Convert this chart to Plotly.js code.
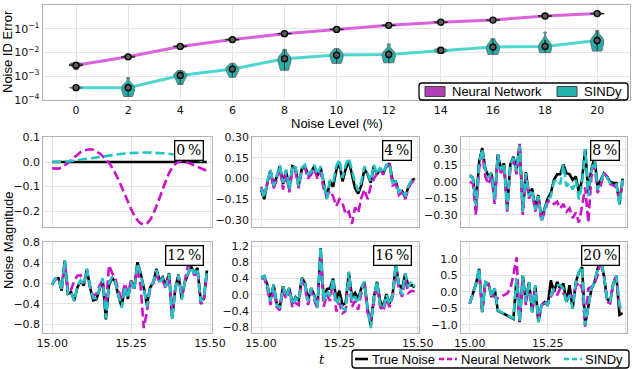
<!DOCTYPE html>
<html>
<head>
<meta charset="utf-8">
<script src="https://cdn.plot.ly/plotly-3.0.1.min.js"></script>
<style>
  html, body { margin: 0; padding: 0; background: #fff; }
  #chart { width: 640px; height: 369px; }
</style>
</head>
<body>
<div id="chart"></div>
<script>
// ---- top panel: noise identification error vs noise level ----
const noiseLevels = [0, 2, 4, 6, 8, 10, 12, 14, 16, 18, 20];
const nnMedian = [2.9e-3, 6.6e-3, 1.8e-2, 3.5e-2, 6.2e-2, 9.4e-2, 0.139, 0.19, 0.233, 0.345, 0.435];
const sindyMedian = [3.3e-4, 3.3e-4, 1.08e-3, 2.0e-3, 5.5e-3, 7.8e-3, 8.3e-3, 1.23e-2, 1.7e-2, 1.8e-2, 3.2e-2];

// samples (min ... max)
const nnSamples = [
    [1.9e-3, 2.7e-3, 2.9e-3, 3.2e-3, 3.4e-3, 3.6e-3],
    [6.0e-3, 6.4e-3, 6.6e-3, 6.8e-3, 7.1e-3],
    [1.65e-2, 1.75e-2, 1.8e-2, 1.85e-2, 1.95e-2],
    [3.25e-2, 3.4e-2, 3.5e-2, 3.6e-2, 3.75e-2],
    [5.8e-2, 6.1e-2, 6.2e-2, 6.3e-2, 6.6e-2],
    [8.8e-2, 9.2e-2, 9.4e-2, 9.6e-2, 1.0e-1],
    [0.130, 0.136, 0.139, 0.142, 0.148],
    [0.178, 0.186, 0.19, 0.194, 0.202],
    [0.218, 0.228, 0.233, 0.238, 0.248],
    [0.322, 0.338, 0.345, 0.352, 0.368],
    [0.41, 0.427, 0.435, 0.443, 0.46]
];
const sindySamples = [
    [3.1e-4, 3.2e-4, 3.3e-4, 3.4e-4, 3.5e-4],
    [1.4e-4, 2.2e-4, 2.8e-4, 3.3e-4, 3.9e-4, 5.0e-4, 8.7e-4],
    [4.5e-4, 8.0e-4, 1.0e-3, 1.08e-3, 1.2e-3, 1.4e-3, 1.74e-3],
    [9.1e-4, 1.5e-3, 1.8e-3, 2.0e-3, 2.3e-3, 2.7e-3, 3.5e-3],
    [1.8e-3, 3.5e-3, 4.5e-3, 5.5e-3, 6.5e-3, 8.5e-3, 1.35e-2],
    [3.5e-3, 4.5e-3, 6.5e-3, 7.8e-3, 9.0e-3, 1.1e-2, 1.45e-2],
    [3.7e-3, 5.0e-3, 7.0e-3, 8.3e-3, 1.0e-2, 1.3e-2, 2.3e-2],
    [9.1e-3, 1.1e-2, 1.2e-2, 1.23e-2, 1.3e-2, 1.45e-2, 1.7e-2],
    [8.3e-3, 1.1e-2, 1.4e-2, 1.7e-2, 2.0e-2, 2.6e-2, 3.8e-2],
    [9.8e-3, 1.3e-2, 1.6e-2, 1.8e-2, 2.3e-2, 3.5e-2, 7.2e-2],
    [1.15e-2, 1.8e-2, 2.6e-2, 3.2e-2, 3.8e-2, 5.0e-2, 8.5e-2]
];
const logTickVals = [1e-4, 1e-3, 1e-2, 1e-1, 1];
const logTickText = ['10<sup>\u22124</sup>', '10<sup>\u22123</sup>', '10<sup>\u22122</sup>', '10<sup>\u22121</sup>', '10<sup>0</sup>'];

// ---- small panels: noise time series ----
const tGrid = [15.00, 15.01, 15.02, 15.03, 15.04, 15.05, 15.06, 15.07, 15.08, 15.09,
    15.10, 15.11, 15.12, 15.13, 15.14, 15.15, 15.16, 15.17, 15.18, 15.19,
    15.20, 15.21, 15.22, 15.23, 15.24, 15.25, 15.26, 15.27, 15.28, 15.29,
    15.30, 15.31, 15.32, 15.33, 15.34, 15.35, 15.36, 15.37, 15.38, 15.39,
    15.40, 15.41, 15.42, 15.43, 15.44, 15.45, 15.46, 15.47, 15.48, 15.49];
const panelLabels = ['0\u2009%', '4\u2009%', '8\u2009%', '12\u2009%', '16\u2009%', '20\u2009%'];

const true0 = [0,0,0,0,0,0,0,0,0,0, 0,0,0,0,0,0,0,0,0,0, 0,0,0,0,0,0,0,0,0,0, 0,0,0,0,0,0,0,0,0,0, 0,0,0,0,0,0,0,0,0,0];
const nn0 = [-0.026,-0.028,-0.027,-0.022,-0.014,-0.004,0.008,0.02,0.031,0.040,
    0.047,0.051,0.052,0.050,0.044,0.035,0.024,0.011,-0.004,-0.022,
    -0.045,-0.072,-0.102,-0.133,-0.163,-0.192,-0.217,-0.237,-0.25,-0.255,
    -0.25,-0.236,-0.213,-0.182,-0.147,-0.11,-0.075,-0.045,-0.022,-0.008,
    0.0,0.003,0.002,-0.002,-0.008,-0.014,-0.02,-0.026,-0.031,-0.036];
const sindy0 = [0.0,0.0,0.001,0.001,0.002,0.003,0.004,0.006,0.008,0.01,
    0.012,0.014,0.016,0.018,0.02,0.022,0.024,0.026,0.028,0.03,
    0.032,0.033,0.034,0.035,0.036,0.037,0.038,0.038,0.039,0.039,
    0.039,0.039,0.038,0.038,0.037,0.036,0.035,0.034,0.032,0.03,
    0.027,0.024,0.021,0.017,0.013,0.009,0.006,0.003,0.001,0.0];

const true4 = [-0.08,-0.15,-0.03,0.06,-0.06,0.01,0.09,-0.04,0.06,-0.08,
    0.09,0.08,-0.05,0.07,0.09,0.03,0.05,0.09,0.02,0.08,
    -0.03,-0.14,-0.02,-0.06,0.06,0.12,-0.02,0.07,0.13,0.02,
    -0.07,-0.11,-0.05,0.07,0.03,-0.03,0.09,0.03,0.07,0.04,
    0.09,0.11,-0.02,-0.02,-0.10,-0.09,-0.14,-0.06,-0.02,0.0];
const nn4 = [-0.06,-0.12,-0.04,0.06,-0.07,-0.01,0.08,-0.08,0.04,-0.10,
    0.06,0.05,-0.07,0.06,0.08,0.0,0.03,0.07,0.0,0.05,
    -0.08,-0.13,-0.09,-0.13,-0.20,-0.15,-0.18,-0.26,-0.24,-0.33,
    -0.21,-0.25,-0.14,-0.08,-0.15,-0.055,0.0,0.03,0.065,0.03,
    0.09,0.10,-0.05,-0.04,-0.12,-0.10,-0.15,-0.07,-0.03,-0.01];
const sindy4 = [-0.07,-0.14,-0.02,0.065,-0.055,0.017,0.10,-0.03,0.065,-0.08,
    0.10,0.08,-0.055,0.08,0.10,0.03,0.05,0.10,0.03,0.09,
    -0.02,-0.15,-0.01,-0.03,0.09,0.14,0.005,0.10,0.15,0.05,
    -0.03,-0.09,-0.02,0.09,0.04,-0.02,0.10,0.03,0.08,0.04,
    0.10,0.11,-0.03,-0.02,-0.10,-0.08,-0.13,-0.055,-0.01,0.005];

const true8 = [0.06,0.04,-0.20,0.18,0.31,0.12,0.05,0.08,-0.15,0.25,
    0.12,0.17,-0.24,0.16,0.23,0.11,0.34,-0.26,0.09,-0.12,
    -0.06,-0.24,-0.12,-0.34,-0.24,-0.15,-0.10,0.02,0.07,0.07,
    0.16,0.08,0.07,0.02,0.05,-0.10,0.02,0.30,-0.10,0.12,
    0.22,-0.05,0.02,0.08,0.05,0.0,-0.01,-0.01,-0.20,0.03];
const nn8 = [0.0,-0.01,-0.30,0.12,0.26,0.05,-0.02,0.05,-0.20,0.22,
    0.08,0.13,-0.27,0.12,0.20,0.07,0.36,-0.30,0.05,-0.15,
    -0.10,-0.27,-0.15,-0.36,-0.27,-0.18,-0.17,-0.20,-0.18,-0.24,
    -0.20,-0.27,-0.24,-0.33,-0.28,-0.37,-0.22,-0.05,-0.37,0.05,
    0.15,-0.10,-0.03,0.08,0.05,-0.02,-0.03,-0.05,-0.15,-0.01];
const sindy8 = [0.058,0.037,-0.22,0.17,0.30,0.11,0.04,0.08,-0.16,0.25,
    0.11,0.17,-0.25,0.16,0.22,0.10,0.33,-0.27,0.08,-0.13,
    -0.07,-0.25,-0.13,-0.35,-0.25,-0.16,-0.13,0.006,0.02,-0.02,
    0.16,-0.04,-0.01,-0.07,0.02,-0.16,-0.01,0.30,-0.13,0.11,
    0.20,-0.07,0.006,0.08,0.04,-0.01,-0.02,-0.02,-0.21,0.02];

const true12 = [-0.03,0.09,0.10,-0.14,0.44,-0.20,-0.17,-0.33,-0.08,0.05,
    -0.04,0.27,-0.08,-0.33,-0.31,-0.13,0.08,-0.70,-0.03,0.11,
    0.02,-0.25,-0.45,-0.08,-0.30,0.05,-0.10,0.41,0.20,-0.08,
    -0.42,-0.08,0.02,0.28,0.05,0.12,-0.04,0.20,-0.68,-0.08,
    0.17,-0.30,0.02,0.18,0.33,0.20,0.30,-0.33,-0.30,0.25];
const nn12 = [-0.03,0.08,0.08,-0.10,0.42,-0.15,-0.12,0.05,0.15,0.16,
    0.0,0.25,-0.05,-0.25,-0.20,-0.05,0.05,-0.45,0.35,0.20,
    0.10,-0.15,-0.30,0.0,-0.20,0.05,-0.10,0.30,-0.05,-0.87,
    -0.55,-0.10,0.0,0.20,0.0,0.05,-0.10,0.15,-0.55,-0.10,
    0.15,-0.25,0.05,0.35,0.35,0.15,0.25,-0.40,-0.35,0.20];
const sindy12 = [-0.03,0.10,0.10,-0.13,0.45,-0.19,-0.16,-0.35,-0.06,0.06,
    -0.03,0.29,-0.06,-0.29,-0.29,-0.10,0.10,-0.68,0.0,0.13,
    0.03,-0.23,-0.48,-0.06,-0.29,0.03,-0.13,0.39,0.19,-0.10,
    -0.45,-0.06,0.03,0.26,0.03,0.10,-0.06,0.19,-0.71,-0.10,
    0.16,-0.32,0.03,0.19,0.32,0.19,0.29,-0.35,-0.29,0.26];

const true16 = [0.43,0.46,0.25,-0.14,0.25,-0.22,-0.30,0.21,-0.02,0.17,
    -0.22,-0.06,-0.14,0.42,0.30,-0.14,0.17,-0.02,-0.30,1.15,
    -0.14,0.14,0.16,0.40,-0.10,0.10,-0.25,-0.20,0.55,-0.05,
    0.05,-0.10,0.17,0.32,-0.35,-0.75,-0.06,0.32,-0.15,-0.30,
    0.02,-0.22,0.02,0.76,0.25,0.15,0.52,0.22,0.25,0.18];
const nn16 = [0.40,0.42,0.15,-0.25,0.15,-0.30,-0.38,0.12,-0.10,0.10,
    -0.30,-0.20,-0.25,0.35,0.20,-0.25,0.10,-0.10,-0.35,1.0,
    -0.29,0.0,-0.15,0.35,-0.41,-0.20,-0.45,-0.40,0.40,-0.30,
    -0.15,-0.37,0.05,0.25,-0.45,-0.61,-0.20,0.25,-0.30,-0.40,
    -0.10,-0.30,-0.05,0.60,0.15,-0.05,0.40,0.05,0.10,0.08];
const sindy16 = [0.42,0.47,0.24,-0.16,0.24,-0.24,-0.33,0.20,-0.04,0.16,
    -0.24,-0.08,-0.16,0.41,0.29,-0.16,0.16,-0.04,-0.33,1.18,
    -0.16,0.12,-0.04,0.41,-0.24,-0.08,-0.33,-0.37,0.57,-0.16,
    -0.04,-0.20,0.16,0.33,-0.37,-0.82,-0.08,0.33,-0.24,-0.33,
    0.0,-0.24,0.0,0.78,0.24,0.0,0.53,0.20,0.33,0.20];

const true20 = [-0.36,-0.06,0.24,0.70,-0.62,0.29,0.24,-0.16,0.09,-0.57,
    -0.62,-0.67,-0.72,-0.77,-0.82,0.39,-0.92,0.49,-0.31,0.29,
    -0.62,0.19,-0.92,-0.41,-0.31,-0.41,0.35,0.0,0.30,0.10,
    0.25,-0.30,0.20,-0.50,0.29,0.60,0.75,-1.0,-0.41,0.09,
    0.29,0.70,0.98,0.49,-0.21,-0.31,0.24,0.49,-0.70,-0.65];
const nn20 = [-0.35,-0.05,0.25,0.65,-0.55,0.30,0.25,-0.10,-0.15,-0.20,
    -0.15,-0.10,-0.05,0.10,0.50,1.05,-0.90,0.40,-0.40,0.25,
    -0.50,0.10,-0.80,-0.40,-0.35,-0.30,-0.15,0.05,-0.10,0.10,
    -0.05,-0.20,-0.05,-0.20,0.15,0.30,0.10,-1.06,0.10,0.15,
    0.25,0.50,0.96,0.50,-0.30,-0.35,0.30,0.45,-0.45,-0.55];
const sindy20 = [-0.35,-0.05,0.25,0.71,-0.61,0.30,0.25,-0.15,0.10,-0.56,
    -0.61,-0.66,-0.71,-0.76,-0.81,0.40,-0.91,0.50,-0.30,0.30,
    -0.61,0.20,-0.91,-0.40,-0.30,-0.40,-0.10,0.10,0.20,0.20,
    0.10,-0.35,-0.10,-0.51,0.30,0.61,0.76,-1.01,-0.40,0.10,
    0.30,0.71,1.0,0.50,-0.20,-0.30,0.25,0.50,-0.40,-0.60];

const panelTrue = [true0, true4, true8, true12, true16, true20];
const panelNN = [nn0, nn4, nn8, nn12, nn16, nn20];
const panelSindy = [sindy0, sindy4, sindy8, sindy12, sindy16, sindy20];

// ---- layout helpers (pixel -> paper) ----
const W = 640, H = 369;
const px = x => x / W;
const py = y => 1 - y / H;

const NN_FILL = '#b23fb4', SINDY_FILL = '#22b0aa';
const NN_DASH = '#cc11cc', SINDY_DASH = '#1fc4c4';
const tickFont = {family: 'DejaVu Sans', size: 11, color: '#111'};
const legendFont = {family: 'Liberation Sans', size: 13, color: '#000'};
const gridColor = '#e4e4e4';
const frameColor = '#b3b3b3';

const colDomains = [[px(43.3), px(211.7)], [px(252.3), px(419.3)], [px(461), px(627.3)]];
const rowDomains = [[py(227), py(137)], [py(333), py(241.7)]];
const yRanges = [[-0.265, 0.102], [-0.353, 0.303], [-0.41, 0.41], [-0.965, 0.81], [-0.94, 1.31], [-1.25, 1.52]];
const yTicks = [
    [-0.2, -0.1, 0, 0.1],
    [-0.30, -0.15, 0, 0.15, 0.30],
    [-0.30, -0.15, 0, 0.15, 0.30],
    [-0.8, -0.4, 0, 0.4, 0.8],
    [-0.8, -0.4, 0, 0.4, 0.8, 1.2],
    [-1.0, -0.5, 0, 0.5, 1.0]
];
const yFormats = ['.1f', '.2f', '.2f', '.1f', '.1f', '.1f'];

const traces = [];
const shapes = [];
const layout = {
    width: W, height: H,
    margin: {l: 0, r: 0, t: 0, b: 0},
    paper_bgcolor: '#fff',
    plot_bgcolor: '#fff',
    violinmode: 'overlay',
    showlegend: false,
    annotations: [],
    shapes: shapes,
    xaxis: {
        domain: [px(42.7), px(630)], anchor: 'y',
        range: [-1.28, 21.26], tickvals: noiseLevels,
        showgrid: true, gridcolor: gridColor, zeroline: false,
        showline: true, mirror: true, linecolor: frameColor, linewidth: 1,
        ticks: '', tickfont: tickFont
    },
    yaxis: {
        domain: [py(100), py(5)], anchor: 'x',
        type: 'log', range: [-4, 0],
        tickvals: logTickVals, ticktext: logTickText,
        showgrid: true, gridcolor: gridColor, zeroline: false,
        showline: true, mirror: true, linecolor: frameColor, linewidth: 1,
        ticks: '', tickfont: tickFont
    },
    // overlay so violins and medians sit above the connecting lines
    xaxis8: {overlaying: 'x', anchor: 'y8', range: [-1.28, 21.26], visible: false},
    yaxis8: {overlaying: 'y', anchor: 'x8', type: 'log', range: [-4, 0], visible: false}
};

// connecting lines
traces.push({type: 'scatter', mode: 'lines', x: noiseLevels, y: nnMedian, xaxis: 'x', yaxis: 'y',
    line: {color: '#dc62dc', width: 3}, hoverinfo: 'skip'});
traces.push({type: 'scatter', mode: 'lines', x: noiseLevels, y: sindyMedian, xaxis: 'x', yaxis: 'y',
    line: {color: '#4dd6d0', width: 3}, hoverinfo: 'skip'});

// one violin trace per level so each is scaled to its own density
function addViolins(samples, fill) {
    samples.forEach((s, i) => {
        traces.push({
            type: 'violin', x0: noiseLevels[i], y: s, xaxis: 'x8', yaxis: 'y8',
            width: 0.5, scalemode: 'width', spanmode: 'hard',
            fillcolor: fill, line: {color: '#6e6e6e', width: 1},
            points: false, meanline: {visible: false},
            box: {visible: true, width: 0.06, fillcolor: '#333', line: {color: '#333', width: 1}},
            hoverinfo: 'skip'
        });
    });
}
addViolins(nnSamples, NN_FILL);
addViolins(sindySamples, SINDY_FILL);

// min/max caps visible on the narrow NN violins
traces.push({type: 'scatter', mode: 'markers', x: noiseLevels, y: nnMedian, xaxis: 'x8', yaxis: 'y8',
    marker: {symbol: 'line-ew', size: 10, line: {color: '#222', width: 1.3}}, hoverinfo: 'skip'});
[nnMedian, sindyMedian].forEach(m => {
    traces.push({type: 'scatter', mode: 'markers', x: noiseLevels, y: m, xaxis: 'x8', yaxis: 'y8',
        marker: {symbol: 'circle', size: 6, color: '#5a5a5a', line: {color: '#000', width: 1.3}},
        hoverinfo: 'skip'});
});

// small panels
for (let p = 0; p < 6; p++) {
    const n = p + 2;
    const xa = 'x' + n, ya = 'y' + n;
    const row = Math.floor(p / 3), col = p % 3;
    layout['xaxis' + n] = {
        domain: colDomains[col], anchor: ya,
        range: [14.972, 15.505], tickvals: [15, 15.25, 15.5], tickformat: '.2f',
        showticklabels: row === 1,
        showgrid: true, gridcolor: gridColor, zeroline: false,
        showline: true, mirror: true, linecolor: frameColor, linewidth: 1,
        ticks: '', tickfont: tickFont
    };
    layout['yaxis' + n] = {
        domain: rowDomains[row], anchor: xa,
        range: yRanges[p], tickvals: yTicks[p], tickformat: yFormats[p],
        showgrid: true, gridcolor: gridColor, zeroline: false,
        showline: true, mirror: true, linecolor: frameColor, linewidth: 1,
        ticks: '', tickfont: tickFont
    };
    traces.push({type: 'scatter', mode: 'lines', name: 'True Noise', x: tGrid, y: panelTrue[p],
        xaxis: xa, yaxis: ya, line: {color: '#000', width: 2.6}, hoverinfo: 'skip'});
    traces.push({type: 'scatter', mode: 'lines', name: 'Neural Network', x: tGrid, y: panelNN[p],
        xaxis: xa, yaxis: ya, line: {color: NN_DASH, width: 2.6, dash: '9px,4px'}, hoverinfo: 'skip'});
    traces.push({type: 'scatter', mode: 'lines', name: 'SINDy', x: tGrid, y: panelSindy[p],
        xaxis: xa, yaxis: ya, line: {color: SINDY_DASH, width: 2.6, dash: '9px,4px'}, hoverinfo: 'skip'});
    layout.annotations.push({
        xref: xa + ' domain', yref: ya + ' domain', x: 0.955, y: 0.965,
        xanchor: 'right', yanchor: 'top', showarrow: false,
        text: panelLabels[p],
        font: {family: 'DejaVu Serif', size: 14, color: '#000'},
        bgcolor: '#fff', bordercolor: '#000', borderwidth: 1.3, borderpad: 1
    });
}

// ---- legends (compact, matplotlib-like) ----
function roundRect(x0, y0, x1, y1, r) {
    const P = (x, y) => px(x) + ',' + py(y);
    return 'M' + P(x0 + r, y0) + ' L' + P(x1 - r, y0) + ' Q' + P(x1, y0) + ' ' + P(x1, y0 + r) +
        ' L' + P(x1, y1 - r) + ' Q' + P(x1, y1) + ' ' + P(x1 - r, y1) +
        ' L' + P(x0 + r, y1) + ' Q' + P(x0, y1) + ' ' + P(x0, y1 - r) +
        ' L' + P(x0, y0 + r) + ' Q' + P(x0, y0) + ' ' + P(x0 + r, y0) + ' Z';
}
function legendText(text, x, y) {
    layout.annotations.push({xref: 'paper', yref: 'paper', x: px(x), y: py(y), text: text,
        xanchor: 'left', yanchor: 'middle', showarrow: false, font: legendFont});
}
// top legend: violin patches
shapes.push({type: 'path', xref: 'paper', yref: 'paper', path: roundRect(419, 83, 628, 100, 3),
    fillcolor: '#fff', line: {color: '#000', width: 1.3}, layer: 'above'});
[[425, NN_FILL, 'Neural Network'], [557, SINDY_FILL, 'SINDy']].forEach(([x, fill, label]) => {
    shapes.push({type: 'rect', xref: 'paper', yref: 'paper', x0: px(x), x1: px(x + 20), y0: py(96.5), y1: py(86.5),
        fillcolor: fill, line: {color: '#444', width: 1}, layer: 'above'});
    legendText(label, x + 25, 91.8);
});
// bottom legend: line samples
shapes.push({type: 'path', xref: 'paper', yref: 'paper', path: roundRect(352, 350, 629, 368, 3),
    fillcolor: '#fff', line: {color: '#000', width: 1.3}, layer: 'above'});
[[355, 368, '#000', 'solid', 'True Noise', 370],
 [439, 457, NN_DASH, '5px,3px', 'Neural Network', 459],
 [564, 582, SINDY_DASH, '5px,3px', 'SINDy', 583]].forEach(([a, b, color, dash, label, tx]) => {
    shapes.push({type: 'line', xref: 'paper', yref: 'paper', x0: px(a), x1: px(b), y0: py(359), y1: py(359),
        line: {color: color, width: 2.6, dash: dash}, layer: 'above'});
    legendText(label, tx, 359.3);
});

// titles
const titleFont = {family: 'Liberation Sans', size: 13, color: '#000'};
layout.annotations.push(
    {xref: 'paper', yref: 'paper', x: px(8), y: py(52), text: 'Noise ID Error', textangle: -90,
        showarrow: false, font: titleFont, xanchor: 'center', yanchor: 'middle'},
    {xref: 'paper', yref: 'paper', x: px(337), y: py(123.5), text: 'Noise Level (%)',
        showarrow: false, font: titleFont, xanchor: 'center', yanchor: 'middle'},
    {xref: 'paper', yref: 'paper', x: px(8), y: py(240), text: 'Noise Magnitude', textangle: -90,
        showarrow: false, font: titleFont, xanchor: 'center', yanchor: 'middle'},
    {xref: 'paper', yref: 'paper', x: px(322), y: py(359), text: '<i>t</i>',
        showarrow: false, font: {family: 'DejaVu Serif', size: 13, color: '#000'}, xanchor: 'center', yanchor: 'middle'}
);

Plotly.newPlot('chart', traces, layout, {displayModeBar: false, staticPlot: true});
</script>
</body>
</html>
